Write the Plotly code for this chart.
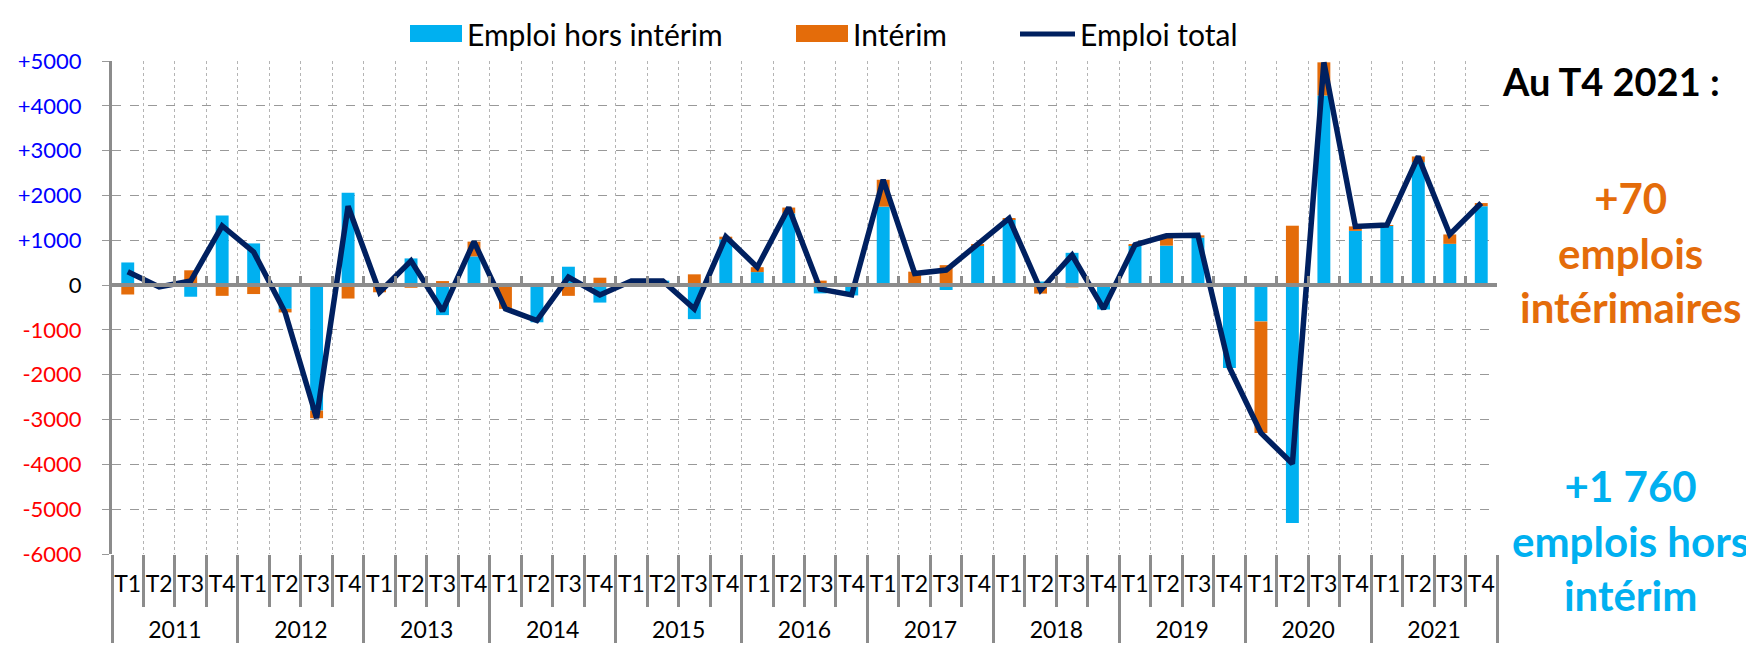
import plotly.graph_objects as go

# --- data ---
years = ['2011', '2012', '2013', '2014', '2015', '2016', '2017', '2018', '2019', '2020', '2021']
quarters = ['T1', 'T2', 'T3', 'T4']

hors_interim = [505, -30, -260, 1550, 930, -530, -2800, 2060,
                -20, 595, -670, 640, -20, -830, 410, -390,
                60, 100, -760, 1020, 290, 1600, -185, -230,
                1750, -40, -110, 890, 1470, 80, 720, -545,
                890, 880, 1060, -1850, -810, -5310, 4230, 1210,
                1325, 2740, 920, 1760]
interim = [-210, -10, 330, -240, -200, -80, -170, -300,
           -140, -60, 90, 330, -510, 40, -240, 165,
           30, -10, 240, 60, 110, 130, 100, 10,
           600, 300, 445, 20, 20, -190, -50, 15,
           10, 220, 50, 10, -2490, 1325, 740, 100,
           15, 130, 210, 70]
emploi_total = [300, -40, 90, 1320, 740, -610, -2970, 1760,
                -160, 540, -580, 970, -530, -790, 180, -220,
                90, 90, -530, 1080, 400, 1730, -90, -220,
                2350, 260, 335, 910, 1490, -110, 670, -530,
                900, 1100, 1110, -1840, -3300, -3985, 4970, 1310,
                1340, 2870, 1130, 1830]

y_ticks = list(range(-6000, 5001, 1000))

# --- colours / fonts ---
BLUE = '#00B0F0'
ORANGE = '#E46C0A'
NAVY = '#002060'
GREY = '#8c8c8c'
FONT = 'Lato'

# plot area in pixels (1754 x 645 page)
PL, PR, PT, PB = 104, 1489, 53, 546


def px(xp):
    return (xp - PL) / (PR - PL)


def py(yp):
    return (PB - yp) / (PB - PT)


# year label gets an empty first line so it sits lower, like the Excel axis
x_years = ['<br>' + y for y in years for q in quarters]
x_quarters = [q for y in years for q in quarters]
x = [x_years, x_quarters]
n = len(x_quarters)
boundaries = [i - 0.5 for i in range(n + 1)]


def tick_label(v):
    if v > 0:
        return f'<span style="color:#0000FF">+{v}</span>'
    if v < 0:
        return f'<span style="color:#FF0000">{v}</span>'
    return '0'


fig = go.Figure()
fig.add_bar(x=x, y=hors_interim, name='Emploi hors intérim',
            marker_color=BLUE, marker_line_width=0)
fig.add_bar(x=x, y=interim, name='Intérim',
            marker_color=ORANGE, marker_line_width=0)
fig.add_scatter(x=x, y=emploi_total, name='Emploi total', mode='lines',
                line=dict(color=NAVY, width=5.5))

# helper traces so the overlay axes are drawn
fig.add_scatter(x=[None], y=[None], xaxis='x2', hoverinfo='skip')
fig.add_scatter(x=[None], y=[None], xaxis='x3', hoverinfo='skip')

fig.update_layout(
    width=1754, height=645,
    barmode='relative', bargap=0.59,
    showlegend=False,
    plot_bgcolor='white', paper_bgcolor='white',
    margin=dict(l=PL, r=1754 - PR, t=PT, b=645 - PB, autoexpand=False),
    font=dict(family=FONT, size=22, color='black'),
    xaxis=dict(type='multicategory', showgrid=True, gridcolor='#b4b4b4', griddash='dot',
               gridwidth=1, showline=False, ticks='', ticklabelstandoff=14,
               showdividers=True, dividercolor=GREY,
               dividerwidth=3, tickangle=0, tickfont=dict(size=23, family=FONT)),
    xaxis2=dict(overlaying='x', anchor='free', position=6 / 11, range=[-0.5, n - 0.5],
                tickvals=boundaries, ticks='inside', ticklen=7, tickwidth=2.5,
                tickcolor=GREY, showline=True, linecolor=GREY, linewidth=3.5,
                showticklabels=False, showgrid=False, zeroline=False),
    xaxis3=dict(overlaying='x', anchor='free', position=0, range=[-0.5, n - 0.5],
                tickvals=boundaries, ticks='outside', ticklen=52, tickwidth=3,
                tickcolor=GREY, showline=False, showticklabels=False,
                showgrid=False, zeroline=False),
    yaxis=dict(range=[-6000, 5000], tickvals=y_ticks, ticktext=[tick_label(v) for v in y_ticks],
               showgrid=True, gridcolor='#999999', griddash='dash', gridwidth=1.3,
               zeroline=False, showline=True, linecolor=GREY, linewidth=3,
               ticks='outside', ticklen=7, tickcolor='#999999', tickwidth=1.3,
               ticklabelstandoff=16, tickfont=dict(size=22, family=FONT)),
)

# legend drawn by hand: wide colour keys like the original
legend_items = [('rect', BLUE, 402, 454, 'Emploi hors intérim'),
                ('rect', ORANGE, 788, 840, 'Intérim'),
                ('line', NAVY, 1012, 1067, 'Emploi total')]
for kind, colour, x0, x1, label in legend_items:
    if kind == 'rect':
        fig.add_shape(type='rect', xref='paper', yref='paper',
                      x0=px(x0), x1=px(x1), y0=py(34), y1=py(17),
                      fillcolor=colour, line_width=0)
    else:
        fig.add_shape(type='line', xref='paper', yref='paper',
                      x0=px(x0), x1=px(x1), y0=py(26), y1=py(26),
                      line=dict(color=colour, width=5))
    fig.add_annotation(text=label, xref='paper', yref='paper', x=px(x1 + 3), y=py(26),
                       xanchor='left', yanchor='middle', showarrow=False,
                       font=dict(family=FONT, size=30, color='black'))

fig.add_annotation(text='<b>Au T4 2021 :</b>', xref='paper', yref='paper',
                   x=px(1603), y=py(73), xanchor='center', yanchor='middle', showarrow=False,
                   font=dict(family=FONT, size=38, color='black'))
fig.add_annotation(text='<b>+70<br>emplois<br>intérimaires</b>', xref='paper', yref='paper',
                   x=px(1622), y=py(244), xanchor='center', yanchor='middle', showarrow=False,
                   font=dict(family=FONT, size=42, color=ORANGE))
fig.add_annotation(text='<b>+1 760<br>emplois hors<br>intérim</b>', xref='paper', yref='paper',
                   x=px(1622), y=py(532), xanchor='center', yanchor='middle', showarrow=False,
                   font=dict(family=FONT, size=42, color=BLUE))

fig.write_html('out.html')
